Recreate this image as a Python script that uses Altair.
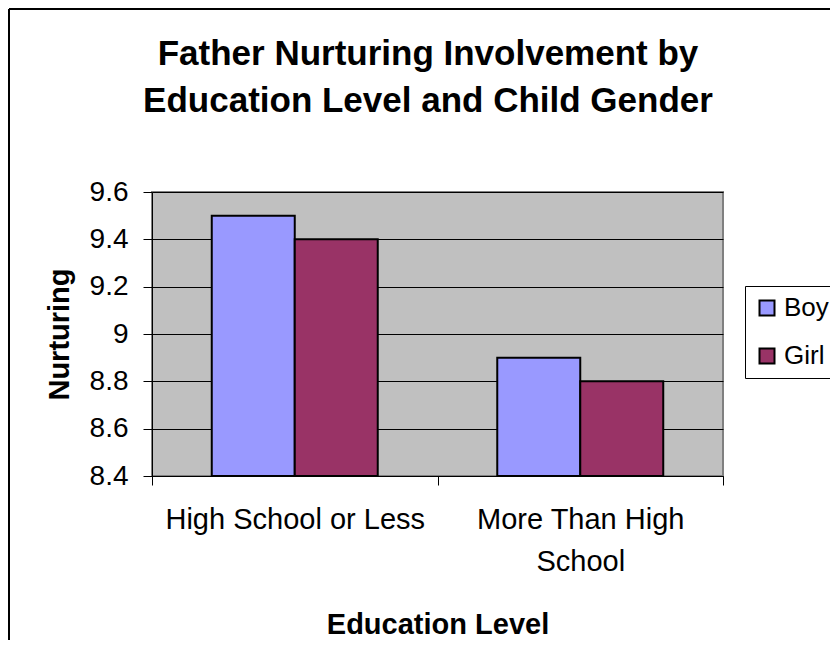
import altair as alt
import pandas as pd

# ---- data ----
categories = ["High School or Less", "More Than High School"]
genders = ["Boy", "Girl"]
boy_values = [9.5, 8.9]
girl_values = [9.4, 8.8]
y_ticks = [8.4, 8.6, 8.8, 9.0, 9.2, 9.4, 9.6]
y_domain = [8.4, 9.6]
colors = ["#9999FF", "#993366"]
title_lines = ["Father Nurturing Involvement by", "Education Level and Child Gender"]

rows = []
for i, c in enumerate(categories):
    rows.append({"Education Level": c, "Gender": genders[0], "Nurturing": boy_values[i]})
    rows.append({"Education Level": c, "Gender": genders[1], "Nurturing": girl_values[i]})
df = pd.DataFrame(rows)

W, H = 571, 284
PAD_L, PAD_T, PAD_R, PAD_B = 144, 184, 107, 164
FONT = "Liberation Sans"

bars = alt.Chart(df).mark_bar(stroke="black", strokeWidth=2).encode(
    x=alt.X(
        "Education Level:N",
        sort=categories,
        scale=alt.Scale(paddingInner=0, paddingOuter=0),
        axis=alt.Axis(
            labelAngle=0, labelFontSize=29, labelFont=FONT, labelColor="black",
            labelExpr="datum.value == 'More Than High School' ? ['More Than High', 'School'] : datum.value",
            labelBaseline="alphabetic", labelPadding=43, labelLineHeight=42,
            labelLimit=400, labelOverlap=False, labelFlush=False,
            tickBand="extent", tickSize=9, tickColor="black", tickWidth=1,
            domainColor="black", domainWidth=1, grid=False,
            titleFontSize=29, titleFont=FONT, titleFontWeight="bold", titleColor="black",
            titleBaseline="alphabetic", titleY=157,
        ),
    ),
    y=alt.Y(
        "Nurturing:Q",
        scale=alt.Scale(domain=y_domain, zero=False, nice=False),
        axis=alt.Axis(
            values=y_ticks, format=".1~f",
            labelFontSize=28, labelFont=FONT, labelColor="black", labelPadding=15,
            tickSize=9, tickColor="black", tickWidth=1,
            domainColor="black", domainWidth=1,
            gridColor="black", gridWidth=1, gridOpacity=1,
            titleFontSize=29, titleFont=FONT, titleFontWeight="bold", titleColor="black",
            titleAngle=270, titleBaseline="alphabetic", titleX=-84, titleY=142,
        ),
    ),
    y2=alt.datum(y_domain[0]),
    xOffset=alt.XOffset("Gender:N", sort=genders,
                        scale=alt.Scale(paddingInner=0, paddingOuter=0.72)),
    color=alt.Color(
        "Gender:N",
        sort=genders,
        scale=alt.Scale(domain=genders, range=colors),
        legend=alt.Legend(
            title=None, orient="none", legendX=593, legendY=94, direction="vertical",
            fillColor="white", strokeColor="black", padding=9,
            symbolType="square", symbolSize=225, symbolStrokeColor="black",
            symbolStrokeWidth=2, symbolOpacity=1,
            labelFontSize=26, labelFont=FONT, labelColor="black", labelOffset=4,
            rowPadding=22,
        ),
    ),
)

frame_df = pd.DataFrame({"k": [0]})
left_rule = alt.Chart(frame_df).mark_rule(color="black", strokeWidth=2).encode(
    x=alt.value(-143), y=alt.value(-183), y2=alt.value(H + PAD_B)
)
top_rule = alt.Chart(frame_df).mark_rule(color="black", strokeWidth=2).encode(
    x=alt.value(-143), x2=alt.value(W + PAD_R), y=alt.value(-183)
)

chart = alt.layer(bars, left_rule, top_rule).properties(
    width=W,
    height=H,
    title=alt.TitleParams(
        text=title_lines, fontSize=35, font=FONT, fontWeight="bold", color="black",
        anchor="middle", frame="group", dx=-9.5, offset=-139,
        baseline="alphabetic", lineHeight=47,
    ),
    autosize=alt.AutoSizeParams(type="none"),
    padding={"left": PAD_L, "top": PAD_T, "right": PAD_R, "bottom": PAD_B},
).configure(background="white", font=FONT).configure_view(
    fill="#C0C0C0", stroke="#808080", strokeWidth=2
)

chart.save("out.html", embed_options={"renderer": "svg", "actions": False})
